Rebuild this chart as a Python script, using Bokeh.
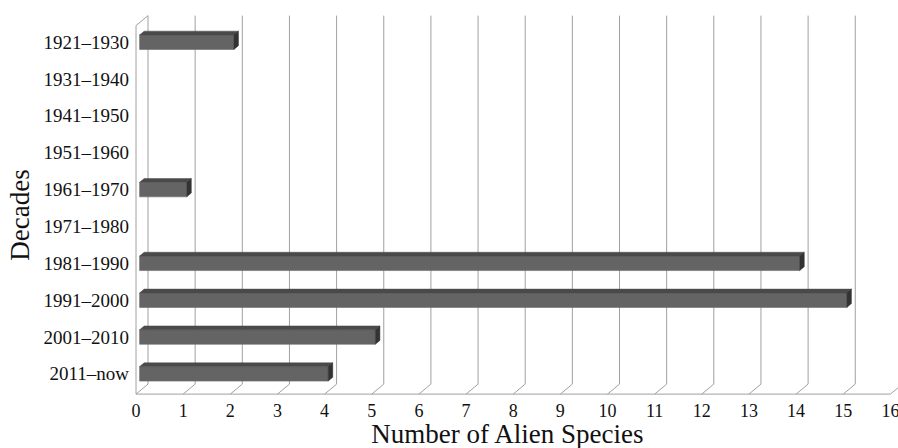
import math
from bokeh.plotting import figure
from bokeh.models import Range1d, ColumnDataSource
from bokeh.core.properties import value
from bokeh.embed import file_html
from bokeh.resources import INLINE

# ---------------- data ----------------
decades = ["1921–1930", "1931–1940", "1941–1950", "1951–1960", "1961–1970",
           "1971–1980", "1981–1990", "1991–2000", "2001–2010", "2011–now"]
species = [2, 0, 0, 0, 1, 0, 14, 15, 5, 4]
x_ticks = list(range(0, 17))
x_tick_labels = [str(t) for t in x_ticks]
x_title = "Number of Alien Species"
y_title = "Decades"

# ---------------- layout ----------------
W, H = 898, 448
X0_PX, X_UNIT = 135.5, 47.15      # screen px of value 0 (front plane), px per unit
Y0_PX, Y_UNIT = 41.7, 36.85       # screen px of first category, px per category
DEPTH_DX, DEPTH_DY = 12.0, 10.0   # 3D depth offset in px
FONT = value("Liberation Serif")
GRID = "#a0a0a0"

n = len(decades)
idx = list(range(n))
ddx = DEPTH_DX / X_UNIT
ddy = DEPTH_DY / Y_UNIT
i_top = -0.45
i_floor = (n - 1) + 0.55

x_range = Range1d(-X0_PX / X_UNIT, (W - X0_PX) / X_UNIT)
y_range = Range1d((H - Y0_PX) / Y_UNIT, -Y0_PX / Y_UNIT)

p = figure(width=W, height=H, x_range=x_range, y_range=y_range,
           x_axis_location=None, y_axis_location=None,
           toolbar_location=None, output_backend="svg", min_border=0)
p.outline_line_color = None
p.grid.visible = False
p.background_fill_color = "white"
p.border_fill_color = "white"

# back-wall gridlines with floor slant
gx, gy = [], []
for k in x_ticks:
    gx.append([k + ddx, k + ddx, k])
    gy.append([i_top - ddy, i_floor - ddy, i_floor])
p.multi_line(gx, gy, line_color=GRID, line_width=1)

# left wall front edge, top edge, floor front edge
p.multi_line([[0, 0], [0, ddx], [0, x_ticks[-1]]],
             [[i_top, i_floor], [i_top, i_top - ddy], [i_floor, i_floor]],
             line_color=GRID, line_width=1)

# bars (3D)
fd, bd = 0.30, 0.68
bh = 14.5 / Y_UNIT
sx = (bd - fd) * ddx
sy = (bd - fd) * ddy
left0 = fd * ddx
bi = [i for i in idx if species[i] > 0]
bv = [species[i] for i in bi]

front = ColumnDataSource(dict(y=bi, left=[left0] * len(bi),
                              right=[v + left0 for v in bv]))
p.hbar(y="y", left="left", right="right", height=bh, source=front,
       fill_color="#646464", line_color="#6a6a6a", line_width=0.6)

top_xs, top_ys, side_xs, side_ys = [], [], [], []
for i, v in zip(bi, bv):
    r = v + left0
    t = i - bh / 2
    b = i + bh / 2
    top_xs.append([left0, r, r + sx, left0 + sx])
    top_ys.append([t, t, t - sy, t - sy])
    side_xs.append([r, r + sx, r + sx, r])
    side_ys.append([t, t - sy, b - sy, b])
p.patches(top_xs, top_ys, fill_color="#4a4a4a", line_color="#4a4a4a", line_width=0.5)
p.patches(side_xs, side_ys, fill_color="#333333", line_color="#333333", line_width=0.5)

# category labels
p.text(x=[0] * n, y=idx, text=decades, x_offset=-7, text_align="right",
       text_baseline="middle", text_font=FONT, text_font_size=value("19px"),
       text_color="#111111")

# x tick labels
p.text(x=x_ticks, y=[i_floor] * len(x_ticks), text=x_tick_labels, y_offset=16,
       text_align="center", text_baseline="middle", text_font=FONT,
       text_font_size=value("18px"), text_color="#111111")

# axis titles
p.text(x=[(x_ticks[0] + x_ticks[-1]) / 2], y=[i_floor], text=[x_title],
       x_offset=-5, y_offset=39.5, text_align="center", text_baseline="middle",
       text_font=FONT, text_font_size=value("27px"), text_color="#111111")
p.text(x=[0], y=[sum(idx) / n], text=[y_title], angle=math.pi / 2,
       x_offset=-116.5, y_offset=7, text_align="center",
       text_baseline="middle", text_font=FONT,
       text_font_size=value("27px"), text_color="#111111")

open("out.html", "w").write(file_html(p, INLINE))
